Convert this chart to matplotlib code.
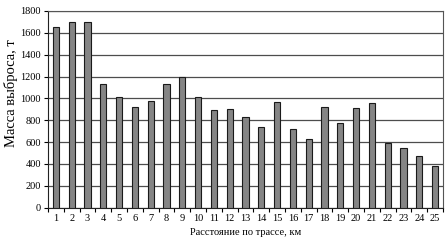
"""Bar chart of emission mass along the route."""

from matplotlib import pyplot
import numpy

km = list(range(1, 26))
mass = [1650, 1700, 1700, 1130, 1010, 920, 980, 1130, 1200, 1010,
        890, 900, 830, 740, 970, 720, 630, 920, 770, 915,
        955, 590, 545, 470, 380]
yticks = list(range(0, 1801, 200))

pyplot.rc('font', family='Liberation Serif', size=7.5)
fig = pyplot.figure(figsize=(4.48, 2.43), dpi=100)
ax = fig.add_axes([48 / 448, 1 - 207.5 / 243, 395 / 448, 196.5 / 243])

ax.bar(km, mass, width=0.38, color='#858585', edgecolor='#1a1a1a',
       linewidth=0.8, zorder=3)
ax.set_xlim(0.5, 25.5)
ax.set_ylim(0, 1800)
ax.set_yticks(yticks)
ax.set_xticks(km)
ax.set_xticks(numpy.arange(0.5, 26, 1), minor=True)
ax.tick_params(axis='x', which='major', length=0, pad=5)
ax.tick_params(axis='x', which='minor', length=3, width=0.8)
ax.tick_params(axis='y', length=3, width=0.8, pad=2)
ax.grid(axis='y', color='#4d4d4d', linewidth=0.9, zorder=0)
for side in ['top', 'right']:
    ax.spines[side].set_color('#555555')
for side in ['left', 'bottom']:
    ax.spines[side].set_color('#222222')
ax.set_xlabel('Расстояние по трассе, км', labelpad=3)
ax.set_ylabel('Масса выброса, т', fontsize=10.5)
ax.yaxis.set_label_coords(-0.077, 0.58)

fig.savefig('out.png', dpi=100)
